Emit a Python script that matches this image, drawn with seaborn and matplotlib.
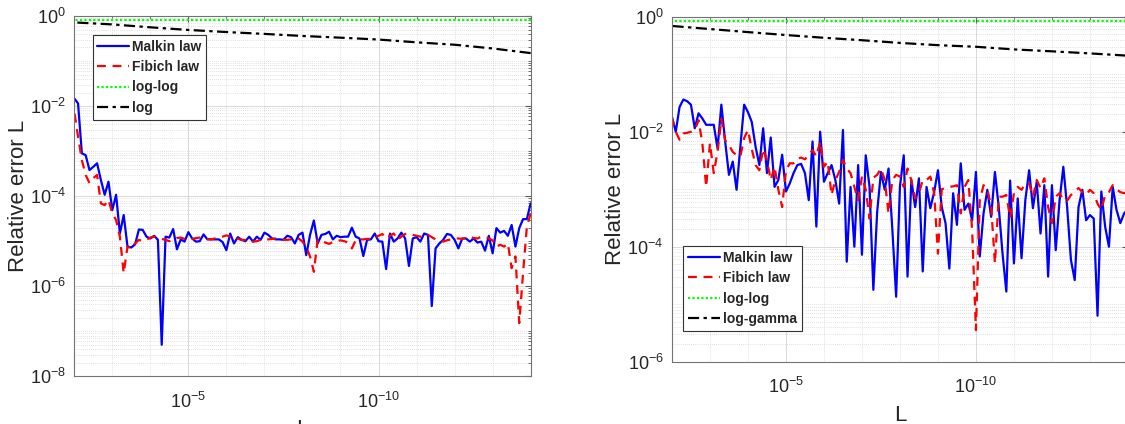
import numpy as np
import seaborn as sns
import matplotlib
matplotlib.use("Agg")
import matplotlib.pyplot as plt
from matplotlib.ticker import LogLocator, NullFormatter, FixedLocator

# sampling grid of L (log10), 10 points per decade
L_exp = np.linspace(-2, -14, 121)
# decades for the smooth reference curves
L_dec = [-2, -3, -4, -5, -6, -7, -8, -9, -10, -11, -12, -13, -14]

# left panel, log10 of relative error
malkin_left = [
    -1.83, -1.94, -3.05, -3.09, -3.42, -3.35, -3.27, -3.64, -3.97, -3.68,
    -4.31, -3.97, -4.83, -4.42, -5.12, -5.14, -5.07, -4.74, -4.75, -4.90,
    -4.94, -4.88, -4.97, -7.30, -4.90, -4.92, -4.73, -5.18, -4.96, -5.01,
    -4.80, -4.94, -5.01, -5.00, -4.85, -4.96, -4.96, -4.96, -4.96, -5.02,
    -5.20, -4.83, -5.05, -4.91, -4.97, -5.00, -4.90, -5.01, -4.90, -4.97,
    -4.81, -4.86, -4.94, -4.96, -4.96, -4.97, -4.88, -4.91, -5.05, -4.86,
    -4.81, -5.31, -4.86, -4.54, -5.05, -4.86, -4.84, -4.79, -4.96, -4.88,
    -4.91, -4.90, -4.90, -4.70, -4.90, -4.94, -5.33, -4.97, -4.96, -4.83,
    -5.00, -5.01, -5.62, -4.83, -5.01, -4.94, -4.81, -4.94, -5.55, -4.94,
    -4.91, -5.01, -4.83, -4.86, -6.44, -5.16, -5.05, -4.97, -4.84, -4.86,
    -4.97, -5.16, -4.94, -4.94, -5.01, -4.94, -5.03, -5.01, -5.21, -4.88,
    -5.27, -4.71, -4.81, -4.77, -4.88, -4.64, -5.12, -4.71, -4.51, -4.51,
    -4.16,
]
fibich_left = [
    -2.12, -2.68, -3.20, -3.53, -3.71, -3.60, -3.53, -4.16, -4.20, -4.08,
    -4.38, -4.53, -4.90, -5.71, -5.12, -5.16, -5.05, -4.97, -5.00, -4.97,
    -4.92, -4.90, -4.93, -4.95, -4.97, -5.00, -4.97, -4.93, -4.92, -4.95,
    -4.97, -4.95, -4.93, -4.92, -4.93, -4.95, -4.96, -4.94, -4.92, -4.90,
    -4.87, -4.90, -4.94, -4.95, -4.97, -4.97, -4.98, -5.01, -5.00, -4.97,
    -4.96, -4.96, -4.95, -4.94, -4.96, -4.97, -4.97, -4.96, -4.95, -4.94,
    -5.01, -5.12, -5.34, -5.68, -4.96, -4.98, -5.03, -5.06, -5.02, -5.00,
    -4.98, -5.00, -5.03, -5.16, -4.98, -4.96, -4.96, -4.95, -4.95, -4.92,
    -4.88, -4.84, -4.94, -4.88, -4.83, -4.97, -4.90, -4.84, -4.83, -4.86,
    -4.88, -4.90, -4.90, -4.86, -4.91, -4.96, -4.98, -5.01, -4.98, -4.96,
    -4.94, -4.94, -4.95, -4.93, -4.90, -4.93, -4.94, -4.90, -4.90, -4.94,
    -4.98, -5.12, -5.08, -5.12, -5.05, -5.60, -5.34, -6.82, -5.71, -4.68,
    -4.38,
]
loglog_left = [0.81, 0.81, 0.81, 0.81, 0.81, 0.81, 0.81, 0.81, 0.81, 0.81, 0.81, 0.81, 0.81]
log_left = [0.72, 0.65, 0.56, 0.49, 0.44, 0.40, 0.36, 0.33, 0.30, 0.26, 0.23, 0.19, 0.15]

# right panel, log10 of relative error
malkin_right = [
    -1.74, -2.00, -1.57, -1.44, -1.47, -1.53, -1.94, -1.68, -1.77, -1.88,
    -1.88, -1.88, -2.29, -1.53, -2.17, -2.75, -2.52, -3.01, -2.26, -1.53,
    -1.66, -1.83, -2.26, -2.58, -1.94, -2.72, -2.10, -2.96, -2.84, -2.40,
    -3.04, -2.90, -2.72, -2.58, -2.56, -2.72, -3.19, -2.17, -3.65, -2.00,
    -2.87, -2.72, -2.58, -2.84, -3.25, -1.97, -4.26, -2.96, -4.00, -2.58,
    -4.14, -2.41, -2.96, -4.75, -3.40, -2.70, -3.01, -2.64, -3.70, -4.87,
    -2.95, -2.41, -4.52, -2.84, -3.31, -2.81, -4.43, -2.96, -3.33, -3.05,
    -2.67, -3.31, -3.59, -4.38, -3.07, -3.62, -2.55, -3.36, -3.25, -3.54,
    -2.70, -4.17, -3.42, -3.01, -3.48, -2.70, -3.31, -4.12, -4.78, -2.85,
    -4.29, -3.16, -4.20, -3.19, -2.67, -3.33, -2.87, -3.77, -2.93, -4.52,
    -2.93, -4.06, -3.20, -2.61, -3.31, -4.23, -4.58, -3.31, -3.01, -3.54,
    -3.45, -3.51, -5.20, -3.04, -3.65, -4.00, -2.96, -3.36, -3.59, -3.42,
    -3.35,
]
fibich_right = [
    -1.77, -2.00, -2.14, -2.03, -2.02, -2.00, -1.97, -1.80, -2.20, -2.96,
    -2.20, -2.72, -2.35, -1.78, -2.15, -2.23, -2.35, -2.41, -2.43, -2.11,
    -1.97, -2.30, -2.58, -2.67, -2.30, -2.50, -2.84, -2.61, -3.01, -3.31,
    -2.67, -2.55, -2.55, -2.47, -2.45, -2.48, -2.40, -2.32, -2.43, -2.17,
    -2.61, -2.52, -3.10, -2.84, -2.70, -2.49, -2.64, -2.72, -2.96, -3.19,
    -2.78, -3.01, -3.51, -2.80, -2.75, -2.64, -2.84, -3.42, -2.84, -2.75,
    -2.78, -2.96, -2.64, -2.84, -3.16, -3.07, -2.84, -2.84, -2.78, -3.07,
    -4.12, -3.00, -2.98, -2.96, -2.95, -2.93, -3.42, -2.96, -2.84, -3.71,
    -5.45, -3.20, -2.93, -3.00, -3.30, -4.29, -3.13, -3.13, -3.10, -3.50,
    -3.07, -2.96, -3.01, -2.90, -2.90, -3.13, -2.84, -2.98, -2.81, -3.31,
    -3.59, -3.13, -3.07, -3.19, -3.20, -3.10, -3.04, -2.98, -3.05, -3.10,
    -3.01, -3.07, -3.25, -3.36, -3.10, -3.05, -2.93, -3.00, -3.05, -3.07,
    -3.05,
]
loglog_right = [0.85, 0.85, 0.85, 0.85, 0.85, 0.85, 0.85, 0.85, 0.85, 0.85, 0.85, 0.85, 0.85]
loggamma_right = [0.69, 0.61, 0.54, 0.48, 0.43, 0.39, 0.35, 0.32, 0.30, 0.27, 0.25, 0.23, 0.21]

sns.set_style("white")
plt.rcParams["font.family"] = ["Liberation Sans", "DejaVu Sans"]
plt.rcParams["mathtext.fontset"] = "custom"
plt.rcParams["mathtext.rm"] = "Liberation Sans"

TXT = "0.15"

fig = plt.figure(figsize=(11.25, 4.24), dpi=100)
ax1 = fig.add_axes([0.0660, 0.1125, 0.4057, 0.8498])
ax2 = fig.add_axes([0.5973, 0.1469, 0.4053, 0.8137])


def draw(ax, malkin, fibich, loglog, other, other_label, ymin_exp):
    L = 10.0 ** L_exp
    Ld = 10.0 ** np.array(L_dec, dtype=float)
    sns.lineplot(x=L, y=10.0 ** np.array(malkin), color="#0000ff", lw=1.6,
                 label="Malkin law", ax=ax)
    sns.lineplot(x=L, y=10.0 ** np.array(fibich), color="#ff0000", lw=1.6,
                 linestyle=(0, (4, 3)), label="Fibich law", ax=ax)
    sns.lineplot(x=Ld, y=loglog, color="#00ff00", lw=1.6,
                 linestyle=(0, (1, 1)), label="log-log", ax=ax)
    sns.lineplot(x=Ld, y=other, color="black", lw=1.6,
                 linestyle=(0, (5, 2, 1.5, 2)), label=other_label, ax=ax)

    ax.set_xscale("log")
    ax.set_yscale("log")
    ax.set_xlim(1e-2, 1e-14)
    ax.set_ylim(10.0 ** ymin_exp, 1)

    ax.xaxis.set_major_locator(FixedLocator([1e-5, 1e-10]))
    ax.xaxis.set_minor_locator(FixedLocator([10.0 ** e for e in L_dec]))
    ax.xaxis.set_minor_formatter(NullFormatter())
    ax.yaxis.set_major_locator(FixedLocator([10.0 ** e for e in range(ymin_exp, 1, 2)]))
    ax.yaxis.set_minor_locator(LogLocator(base=10, subs=np.arange(1, 10), numticks=30))
    ax.yaxis.set_minor_formatter(NullFormatter())

    ax.grid(True, which="major", color="0.85", lw=0.7, ls="-")
    ax.grid(True, which="minor", color="0.78", lw=0.5, ls=(0, (1, 2)))
    ax.set_axisbelow(True)
    ax.tick_params(which="both", direction="in", top=True, right=True,
                   colors="0.35", labelcolor=TXT, labelsize=13)
    ax.tick_params(which="major", length=4)
    ax.tick_params(axis="y", which="major", pad=6)
    ax.tick_params(axis="x", which="major", pad=11)
    ax.tick_params(which="minor", length=2)
    for s in ax.spines.values():
        s.set_color("0.45")
        s.set_linewidth(0.8)

    ax.set_ylabel("Relative error L", fontsize=16, color=TXT)
    ax.set_xlabel("L", fontsize=16, color=TXT)
    ax.yaxis.set_label_coords(-0.10, 0.5)


draw(ax1, malkin_left, fibich_left, loglog_left, log_left, "log", -8)
draw(ax2, malkin_right, fibich_right, loglog_right, loggamma_right, "log-gamma", -6)

ax1.xaxis.set_label_coords(0.5, -0.119)
ax2.xaxis.set_label_coords(0.5, -0.125)

leg_kw = dict(frameon=True, fancybox=False, edgecolor="0.2", framealpha=1,
              prop={"weight": "bold", "size": 10}, handlelength=2.3,
              handletextpad=0.2, labelspacing=0.45, borderpad=0.35,
              borderaxespad=0)
leg1 = ax1.legend(loc="upper left", bbox_to_anchor=(0.04, 0.947), **leg_kw)
leg2 = ax2.legend(loc="lower left", bbox_to_anchor=(0.025, 0.09), **leg_kw)
for leg in (leg1, leg2):
    leg.get_frame().set_linewidth(0.8)

fig.savefig("out.png", dpi=100)
